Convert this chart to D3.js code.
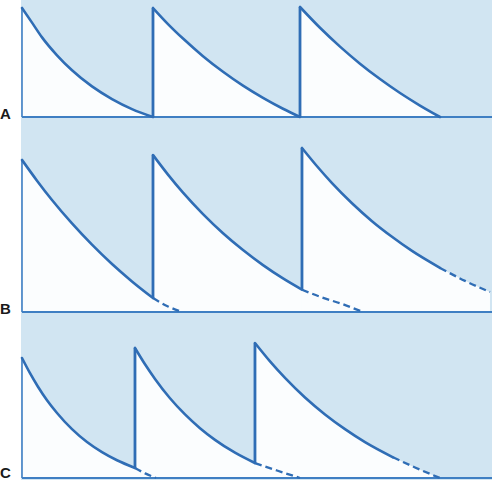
<!DOCTYPE html>
<html>
<head>
<meta charset="utf-8">
<script src="https://cdn.jsdelivr.net/npm/d3@7"></script>
<style>
  body { margin: 0; background: #fff; }
  svg { display: block; }
</style>
</head>
<body>
<svg width="492" height="480"></svg>
<script>
// time (arbitrary units) and concentration values
const panelLabels = ["A", "B", "C"];

// panel A: each dose decays to zero just as the next one is given
const curveA1 = [[0, 99.1], [2.13, 85.8], [4.26, 72.4], [7.45, 56.1], [10.64, 42.5], [14.89, 27.8], [19.15, 16.3], [23.40, 7.2], [27.87, 0]];
const curveA2 = [[27.87, 99.1], [31.06, 84.5], [34.26, 71.3], [38.51, 55.3], [42.77, 41.1], [47.02, 28.5], [51.28, 17.4], [55.53, 7.5], [59.15, 0]];
const curveA3 = [[59.15, 100], [63.40, 81.1], [67.66, 64.0], [71.91, 48.5], [76.17, 34.5], [80.43, 21.8], [84.68, 10.4], [88.94, 0]];

// panel B: next dose arrives before the previous one has gone
const curveB1 = [[0, 138.2], [3.19, 119.4], [6.38, 101.8], [10.64, 80.5], [14.89, 61.2], [19.15, 43.6], [23.40, 27.8], [27.87, 12.7]];
const curveB2 = [[27.87, 142.7], [31.06, 124.9], [34.26, 108.5], [38.51, 89.0], [42.77, 71.6], [47.02, 56.3], [51.28, 42.6], [55.53, 30.5], [59.57, 20.3]];
const curveB3 = [[59.57, 149.1], [62.77, 132.5], [65.96, 117.2], [70.21, 98.9], [74.47, 82.6], [78.72, 68.4], [82.98, 55.5], [88.94, 40.1]];
const tailB1 = [[27.87, 12.7], [30.85, 5.5], [34.04, 0]];
const tailB2 = [[59.57, 20.3], [63.83, 13.2], [68.09, 7.3], [72.55, 0]];
const tailB3 = [[88.94, 40.1], [94.26, 28.3], [99.57, 18.2]];

// panel C: shorter dosing interval
const curveC1 = [[0, 109.1], [1.70, 95.3], [3.40, 83.0], [5.32, 70.7], [7.45, 59.1], [10.64, 44.4], [13.83, 32.7], [17.02, 23.5], [20.21, 16.1], [24.04, 9.1]];
const curveC2 = [[24.04, 118.2], [26.17, 103.4], [28.30, 90.1], [31.49, 72.5], [34.68, 57.8], [37.87, 45.3], [41.06, 34.7], [45.32, 23.0], [49.57, 13.6]];
const curveC3 = [[49.57, 122.7], [52.77, 106.0], [55.96, 91.0], [60.21, 73.2], [64.47, 57.8], [68.72, 44.4], [72.98, 32.6], [78.94, 18.8]];
const tailC1 = [[24.04, 9.1], [26.2, 4.2], [28.51, 0]];
const tailC2 = [[49.57, 13.6], [54.26, 6.8], [59.15, 0]];
const tailC3 = [[78.94, 18.8], [83.62, 9.6], [88.94, 0]];

const panelBases = [117, 312, 478];
const solids = [[curveA1, curveA2, curveA3], [curveB1, curveB2, curveB3], [curveC1, curveC2, curveC3]];
const tails = [[], [tailB1, tailB2, tailB3], [tailC1, tailC2, tailC3]];

const width = 492, height = 480;
const blue = "#2f6db5";

const svg = d3.select("svg");

svg.append("rect")
  .attr("x", 21).attr("y", 0)
  .attr("width", width - 21).attr("height", height)
  .attr("fill", "#d1e5f2");

const x = d3.scaleLinear().domain([0, 100]).range([22, 492]);

panelLabels.forEach((label, pi) => {
  const base = panelBases[pi];
  const solid = solids[pi];
  const dashed = tails[pi];
  const y = d3.scaleLinear().domain([0, 100]).range([base, base - 110]);
  const g = svg.append("g");

  const area = d3.area()
    .x(d => x(d[0]))
    .y0(base)
    .y1(d => y(d[1]))
    .curve(d3.curveMonotoneX);

  const line = d3.line()
    .x(d => x(d[0]))
    .y(d => y(d[1]))
    .curve(d3.curveMonotoneX);

  g.selectAll("path.fill")
    .data(solid.concat(dashed))
    .join("path")
    .attr("class", "fill")
    .attr("d", area)
    .attr("fill", "#fbfdfe");

  // baseline
  g.append("line")
    .attr("x1", x(0)).attr("x2", width)
    .attr("y1", base).attr("y2", base)
    .attr("stroke", "#3f7fc3")
    .attr("stroke-width", 2);

  // left edge up to the first peak
  g.append("line")
    .attr("x1", x(0)).attr("x2", x(0))
    .attr("y1", base).attr("y2", y(solid[0][0][1]))
    .attr("stroke", "#3f7fc3")
    .attr("stroke-width", 1.6);

  // jumps at each later dose
  solid.slice(1).forEach((seg, i) => {
    const prev = solid[i];
    g.append("line")
      .attr("x1", x(seg[0][0])).attr("x2", x(seg[0][0]))
      .attr("y1", y(prev[prev.length - 1][1]))
      .attr("y2", y(seg[0][1]))
      .attr("stroke", blue)
      .attr("stroke-width", 2.8);
  });

  g.selectAll("path.curve")
    .data(solid)
    .join("path")
    .attr("class", "curve")
    .attr("d", line)
    .attr("fill", "none")
    .attr("stroke", blue)
    .attr("stroke-width", 2.6)
    .attr("stroke-linecap", "round");

  g.selectAll("path.tail")
    .data(dashed)
    .join("path")
    .attr("class", "tail")
    .attr("d", line)
    .attr("fill", "none")
    .attr("stroke", blue)
    .attr("stroke-width", 2.3)
    .attr("stroke-dasharray", "7,4");

  g.append("text")
    .attr("x", 0)
    .attr("y", Math.min(base + 2, 478))
    .attr("font-family", "Liberation Sans, Arial, sans-serif")
    .attr("font-weight", "bold")
    .attr("font-size", 15)
    .attr("fill", "#1a1a1a")
    .text(label);
});
</script>
</body>
</html>
